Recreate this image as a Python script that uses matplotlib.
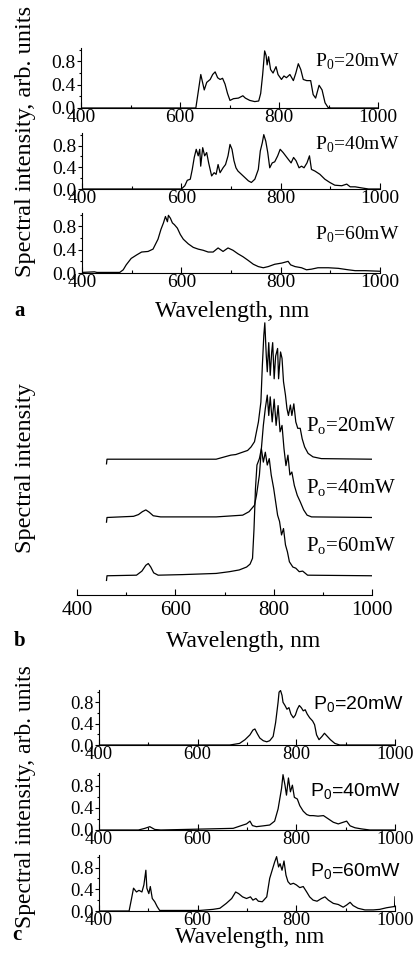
import matplotlib
matplotlib.use('Agg')
import matplotlib.pyplot as plt
from matplotlib.ticker import MultipleLocator, FormatStrFormatter

plt.rcParams['font.family'] = 'Liberation Serif'
plt.rcParams['mathtext.fontset'] = 'custom'
plt.rcParams['mathtext.rm'] = 'Liberation Serif'
plt.rcParams['mathtext.sf'] = 'Liberation Sans'

# ── panel a: normalised spectra ───────────────────────────────────────────────
a20_wl = [400, 632, 642, 649, 654, 661, 666, 671, 676, 681, 686, 691, 696, 701, 708, 718, 727,
          732, 741, 751, 759, 763, 767, 771, 774, 776, 779, 783, 788, 794, 798, 805, 810, 815,
          822, 829, 834, 839, 844, 849, 856, 864, 869, 874, 881, 887, 893, 899, 905, 1000]
a20_int = [0, 0, 0.575, 0.31, 0.44, 0.49, 0.575, 0.62, 0.52, 0.49, 0.51, 0.41, 0.25, 0.13, 0.16,
           0.17, 0.21, 0.17, 0.13, 0.11, 0.12, 0.25, 0.575, 0.98, 0.9, 0.74, 0.88, 0.66, 0.60,
           0.71, 0.575, 0.49, 0.55, 0.52, 0.575, 0.47, 0.60, 0.76, 0.66, 0.49, 0.47, 0.47, 0.23,
           0.17, 0.39, 0.31, 0.09, 0.01, 0, 0]

a40_wl = [400, 600, 607, 612, 618, 622, 626, 630, 634, 637, 639, 643, 647, 651, 655, 661, 666,
          670, 674, 678, 684, 689, 694, 698, 702, 706, 710, 714, 721, 728, 735, 741, 748, 755,
          759, 763, 766, 770, 774, 778, 783, 788, 794, 799, 805, 810, 815, 821, 826, 831, 837,
          842, 847, 853, 858, 862, 869, 879, 889, 899, 909, 923, 933, 940, 950, 963, 977, 1000]
a40_int = [0, 0, 0.06, 0.16, 0.18, 0.36, 0.58, 0.73, 0.61, 0.73, 0.42, 0.76, 0.61, 0.67, 0.48,
           0.24, 0.30, 0.27, 0.45, 0.30, 0.39, 0.45, 0.61, 0.82, 0.73, 0.52, 0.39, 0.33, 0.27,
           0.21, 0.15, 0.12, 0.18, 0.36, 0.70, 0.85, 1.0, 0.88, 0.67, 0.39, 0.48, 0.50, 0.61,
           0.73, 0.67, 0.61, 0.55, 0.48, 0.58, 0.52, 0.39, 0.42, 0.39, 0.48, 0.61, 0.36, 0.33,
           0.27, 0.18, 0.12, 0.07, 0.06, 0.09, 0.04, 0.04, 0.02, 0.0, 0.0]

a60_wl = [400, 425, 430, 476, 483, 489, 499, 510, 520, 533, 543, 553, 559, 564, 568, 572, 574,
          578, 582, 586, 592, 598, 604, 614, 624, 634, 644, 654, 664, 674, 684, 694, 704, 714,
          724, 734, 745, 755, 765, 775, 788, 802, 815, 820, 829, 842, 852, 862, 875, 896, 916,
          936, 950, 970, 1000]
a60_int = [0.01, 0.02, 0.01, 0.01, 0.055, 0.14, 0.25, 0.31, 0.36, 0.37, 0.41, 0.58, 0.75, 0.86,
           0.97, 0.88, 0.99, 0.94, 0.86, 0.83, 0.77, 0.66, 0.58, 0.50, 0.44, 0.41, 0.39, 0.36,
           0.36, 0.43, 0.37, 0.43, 0.39, 0.33, 0.28, 0.22, 0.15, 0.11, 0.09, 0.11, 0.15, 0.17,
           0.20, 0.14, 0.11, 0.09, 0.055, 0.066, 0.09, 0.09, 0.08, 0.055, 0.04, 0.04, 0.03]

# ── panel b: stacked spectra (offset 2, 1, 0) ─────────────────────────────────
b20_wl = [460, 461, 683, 713, 723, 740, 747, 754, 761, 765, 769, 774, 777, 780, 782, 785, 787,
          790, 793, 796, 798, 801, 804, 808, 810, 814, 817, 820, 824, 827, 830, 834, 837, 841,
          845, 849, 854, 858, 863, 870, 880, 897, 1000]
b20_int = [-0.08, 0, 0, 0.07, 0.08, 0.13, 0.15, 0.21, 0.30, 0.47, 0.64, 0.98, 1.61, 2.13, 2.34,
           1.77, 1.5, 2.0, 1.44, 1.84, 2.0, 1.38, 1.77, 1.9, 1.38, 1.84, 1.73, 1.33, 1.1, 0.87,
           0.75, 0.93, 0.75, 0.95, 0.64, 0.53, 0.53, 0.35, 0.21, 0.10, 0.04, 0.01, 0]

b40_wl = [460, 461, 515, 525, 533, 540, 547, 555, 570, 683, 737, 750, 761, 765, 771, 775, 779,
          783, 787, 790, 793, 797, 801, 805, 809, 813, 817, 821, 825, 829, 833, 837, 842, 848,
          854, 861, 868, 877, 1000]
b40_int = [-0.08, 0, 0.02, 0.05, 0.1, 0.13, 0.09, 0.03, 0.01, 0.01, 0.04, 0.1, 0.21, 0.38, 0.73,
           1.18, 1.58, 1.87, 2.1, 1.75, 2.07, 1.64, 2.03, 1.58, 1.92, 1.47, 1.58, 1.18, 0.89,
           1.07, 0.73, 0.78, 0.55, 0.38, 0.27, 0.13, 0.04, 0.01, 0]

b60_wl = [460, 461, 521, 532, 540, 545, 550, 556, 565, 615, 683, 710, 730, 745, 752, 757, 760,
          763, 766, 771, 775, 779, 783, 787, 791, 795, 800, 804, 808, 812, 816, 820, 824, 828,
          832, 839, 845, 852, 859, 869, 1000]
b60_int = [-0.08, 0, 0.01, 0.08, 0.18, 0.21, 0.15, 0.05, 0.01, 0.02, 0.04, 0.07, 0.1, 0.15, 0.2,
           0.3, 0.8, 1.5, 1.9, 2.01, 2.18, 1.95, 2.12, 1.9, 2.01, 1.73, 1.5, 1.27, 1.04, 0.93,
           0.7, 0.81, 0.53, 0.41, 0.24, 0.15, 0.13, 0.07, 0.08, 0.01, 0]
b_offsets = [2, 1, 0]

# ── panel c: normalised spectra ───────────────────────────────────────────────
c20_wl = [400, 665, 672, 685, 696, 706, 712, 716, 721, 726, 733, 740, 746, 753, 758, 763, 765,
          768, 771, 773, 777, 781, 785, 789, 794, 798, 802, 806, 810, 814, 818, 822, 827, 833,
          837, 841, 846, 852, 857, 863, 869, 878, 888, 1000]
c20_int = [0, 0, 0.01, 0.03, 0.1, 0.19, 0.28, 0.3, 0.21, 0.13, 0.08, 0.06, 0.08, 0.16, 0.42, 0.8,
           0.99, 1.02, 0.93, 0.8, 0.74, 0.67, 0.7, 0.58, 0.51, 0.56, 0.67, 0.74, 0.7, 0.64, 0.66,
           0.58, 0.51, 0.45, 0.38, 0.19, 0.1, 0.16, 0.22, 0.16, 0.1, 0.03, 0, 0]

c40_wl = [400, 480, 493, 503, 513, 525, 672, 682, 692, 699, 706, 711, 719, 733, 746, 756, 763,
          770, 773, 777, 780, 784, 788, 792, 796, 802, 807, 814, 821, 827, 834, 844, 855, 865,
          875, 885, 895, 902, 909, 919, 932, 949, 1000]
c40_int = [0, 0, 0.03, 0.06, 0.01, 0, 0.03, 0.06, 0.09, 0.11, 0.16, 0.08, 0.06, 0.075, 0.09,
           0.16, 0.38, 0.75, 1.0, 0.81, 0.63, 0.94, 0.69, 0.81, 0.59, 0.56, 0.44, 0.34, 0.28,
           0.26, 0.26, 0.25, 0.26, 0.2, 0.14, 0.11, 0.14, 0.16, 0.075, 0.04, 0.02, 0, 0]

c60_wl = [400, 461, 466, 470, 476, 481, 487, 491, 495, 497, 501, 504, 508, 513, 518, 523, 537,
          604, 631, 645, 658, 669, 677, 683, 691, 699, 707, 712, 718, 723, 731, 740, 746, 752,
          756, 760, 764, 767, 771, 775, 779, 783, 788, 794, 800, 807, 814, 821, 827, 834, 842,
          851, 858, 865, 875, 885, 895, 902, 909, 915, 925, 939, 956, 969, 983, 997, 999, 1000]
c60_int = [0, 0, 0.23, 0.42, 0.35, 0.38, 0.35, 0.48, 0.75, 0.42, 0.32, 0.45, 0.23, 0.17, 0.08,
           0.01, 0.01, 0.01, 0.03, 0.05, 0.14, 0.23, 0.35, 0.32, 0.26, 0.23, 0.26, 0.2, 0.23,
           0.18, 0.17, 0.26, 0.6, 0.78, 0.9, 1.0, 0.81, 0.87, 0.75, 0.92, 0.66, 0.54, 0.49, 0.51,
           0.48, 0.43, 0.45, 0.35, 0.26, 0.2, 0.18, 0.23, 0.26, 0.2, 0.14, 0.12, 0.07, 0.11,
           0.16, 0.1, 0.05, 0.02, 0.02, 0.03, 0.06, 0.08, 0.08, 0.26]

labels_a = [r'P$_\mathrm{0}$=20mW', r'P$_\mathrm{0}$=40mW', r'P$_\mathrm{0}$=60mW']
labels_b = [r'P$_\mathrm{o}$=20mW', r'P$_\mathrm{o}$=40mW', r'P$_\mathrm{o}$=60mW']
labels_c = [r'P$_\mathsf{0}$=20mW', r'P$_\mathsf{0}$=40mW', r'P$_\mathsf{0}$=60mW']

W, H = 420, 964
fig = plt.figure(figsize=(W / 100, H / 100), dpi=100)
fig.patch.set_facecolor('white')


def px_axes(left, right, top, bottom):
    return fig.add_axes([left / W, 1 - bottom / H, (right - left) / W, (bottom - top) / H])


def xaxis_style(ax, size=14, pad=1):
    ax.set_xlim(400, 1000)
    ax.set_xticks([400, 600, 800, 1000])
    ax.xaxis.set_minor_locator(MultipleLocator(100))
    ax.tick_params(axis='x', which='major', direction='in', length=4, width=0.8,
                   labelsize=size, pad=pad)
    ax.tick_params(axis='x', which='minor', direction='in', length=2.5, width=0.8)
    for s in ['top', 'right']:
        ax.spines[s].set_visible(False)
    ax.patch.set_alpha(0)


def spec_axes(rect, wl, inten, label, lx, ly, family, size):
    ax = px_axes(*rect)
    ax.plot(wl, inten, color='black', lw=0.9)
    xaxis_style(ax, size)
    ax.set_ylim(0, 1.03)
    ax.set_yticks([0, 0.4, 0.8])
    ax.yaxis.set_major_formatter(FormatStrFormatter('%.1f'))
    ax.yaxis.set_minor_locator(MultipleLocator(0.2))
    ax.tick_params(axis='y', which='major', direction='out', length=3, width=0.8,
                   labelsize=size, pad=1)
    ax.tick_params(axis='y', which='minor', direction='out', length=1.5, width=0.8)
    ax.text(lx, ly, label, fontsize=14, family=family, va='baseline', ha='left',
            clip_on=False)
    return ax


# panel a
spec_axes((81, 378, 48, 108), a20_wl, a20_int, labels_a[0], 873, 0.71, 'Liberation Serif', 14)
spec_axes((82, 380, 133, 189), a40_wl, a40_int, labels_a[1], 869, 0.72, 'Liberation Serif', 14)
spec_axes((82, 380, 213, 273), a60_wl, a60_int, labels_a[2], 869, 0.57, 'Liberation Serif', 14)
fig.text(26 / W, 1 - 141 / H, 'Spectral intensity, arb. units', rotation=90,
         fontsize=17.5, ha='center', va='center')
fig.text(232 / W, 1 - 311 / H, 'Wavelength, nm', fontsize=17, ha='center', va='center')
fig.text(20 / W, 1 - 311 / H, 'a', fontsize=15, fontweight='bold', ha='center', va='center')

# panel b
axb = px_axes(77, 372, 310, 595)
for wl, inten, off in zip([b20_wl, b40_wl, b60_wl], [b20_int, b40_int, b60_int], b_offsets):
    axb.plot(wl, [v + off for v in inten], color='black', lw=0.9)
xaxis_style(axb, 15, 4)
axb.set_ylim(-0.33, 4.56)
axb.spines['left'].set_visible(False)
axb.set_yticks([])
for lab, yb in zip(labels_b, [2.48, 1.41, 0.41]):
    axb.text(866, yb, lab, fontsize=15, va='baseline', ha='left', clip_on=False)
fig.text(26 / W, 1 - 468 / H, 'Spectral intensity', rotation=90,
         fontsize=17.5, ha='center', va='center')
fig.text(243 / W, 1 - 641 / H, 'Wavelength, nm', fontsize=17, ha='center', va='center')
fig.text(20 / W, 1 - 641 / H, 'b', fontsize=15, fontweight='bold', ha='center', va='center')

# panel c
spec_axes((99, 395, 690, 745), c20_wl, c20_int, labels_c[0], 834, 0.655, 'Liberation Sans', 13.5)
spec_axes((99, 395, 773, 830), c40_wl, c40_int, labels_c[1], 828, 0.61, 'Liberation Sans', 13.5)
spec_axes((99, 395, 855, 911), c60_wl, c60_int, labels_c[2], 828, 0.63, 'Liberation Sans', 13.5)
fig.text(26 / W, 1 - 797 / H, 'Spectral intensity, arb. units', rotation=90,
         fontsize=17, ha='center', va='center')
fig.text(250 / W, 1 - 938 / H, 'Wavelength, nm', fontsize=16.5, ha='center', va='center')
fig.text(17 / W, 1 - 935 / H, 'c', fontsize=15, fontweight='bold', ha='center', va='center')

fig.savefig('out.png', dpi=100, facecolor='white')
